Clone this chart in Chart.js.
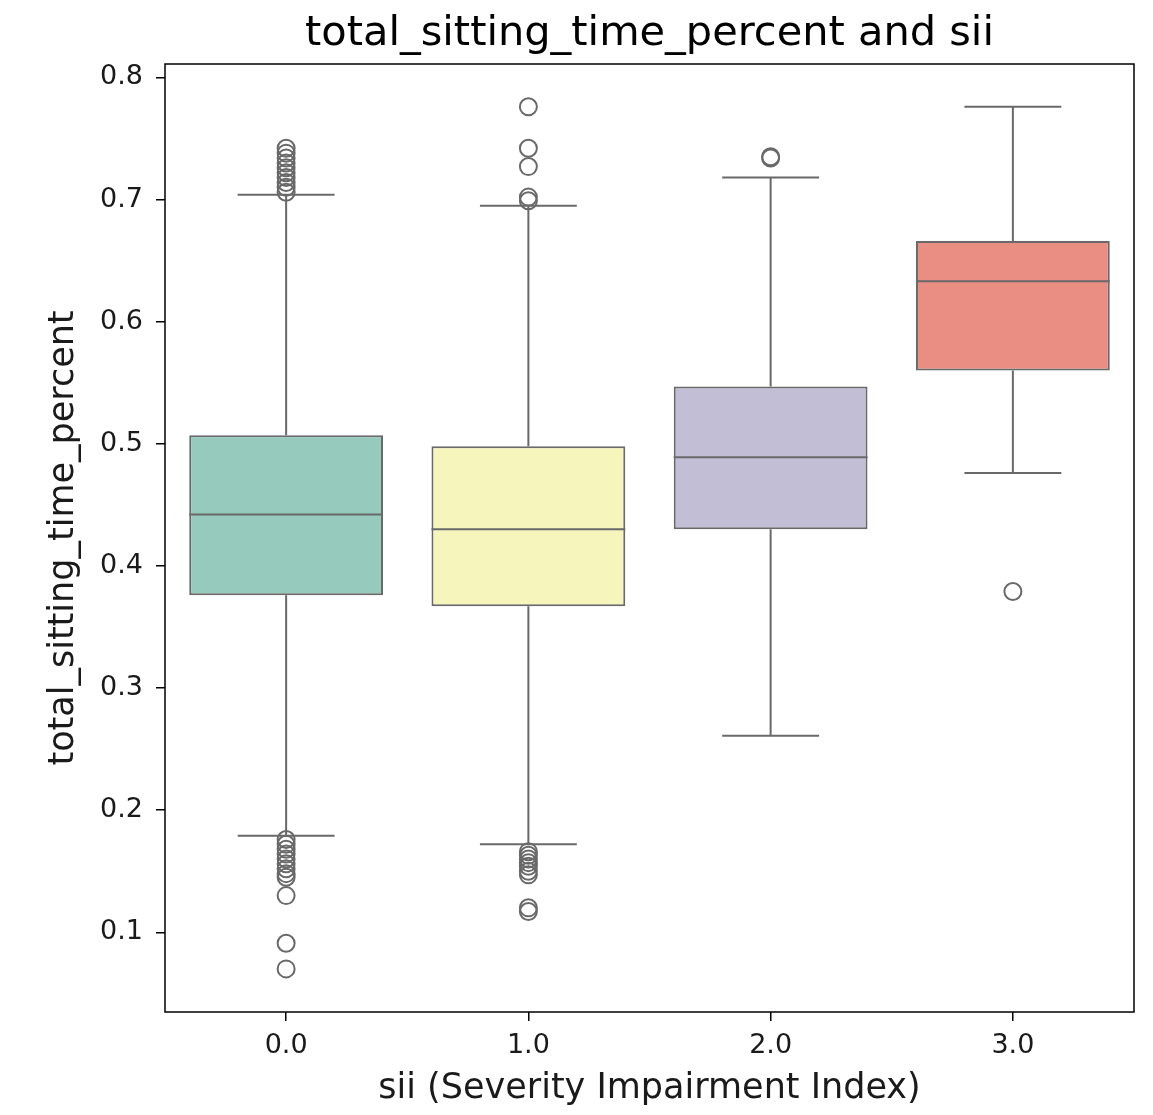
<!DOCTYPE html>
<html>
<head>
<meta charset="utf-8">
<title>total_sitting_time_percent and sii</title>
<script src="https://cdn.jsdelivr.net/npm/chart.js@4.4.0/dist/chart.umd.min.js"></script>
<style>
  html, body { margin: 0; padding: 0; background: #ffffff; }
  #wrap { width: 1153px; height: 1115px; }
</style>
</head>
<body>
<div id="wrap"><canvas id="chart" width="1153" height="1115"></canvas></div>
<script>
// sii groups on the x axis
const categories = ['0.0', '1.0', '2.0', '3.0'];

// box statistics of total_sitting_time_percent per sii group
const whiskerLow  = [0.179, 0.172, 0.261, 0.476];
const q1          = [0.376, 0.367, 0.430, 0.560];
const medians     = [0.442, 0.430, 0.489, 0.633];
const q3          = [0.507, 0.498, 0.547, 0.666];
const whiskerHigh = [0.704, 0.695, 0.718, 0.776];

// points beyond the whiskers, one list per group
const outliers0 = [0.742, 0.738, 0.734, 0.730, 0.726, 0.722, 0.718, 0.714, 0.710, 0.706,
                   0.176, 0.172, 0.168, 0.164, 0.160, 0.156, 0.152, 0.148, 0.145, 0.130, 0.091, 0.070];
const outliers1 = [0.776, 0.742, 0.727, 0.702, 0.699,
                   0.166, 0.163, 0.160, 0.157, 0.154, 0.150, 0.147, 0.120, 0.117];
const outliers2 = [0.735, 0.734];
const outliers3 = [0.379];

const yTicks = [0.1, 0.2, 0.3, 0.4, 0.5, 0.6, 0.7, 0.8];
const yMin = 0.0347;
const yMax = 0.811;

const boxColors = ['#96cabd', '#f5f5bc', '#c1bed6', '#ea8d83'];
const lineGray = '#696969';

// outliers keyed by their group label so the category scale places them
const outlierPoints = [outliers0, outliers1, outliers2, outliers3]
  .flatMap((list, i) => list.map(v => ({ x: categories[i], y: v })));

Chart.defaults.font.family = "'DejaVu Sans', sans-serif";
Chart.defaults.color = '#1a1a1a';

// whiskers, caps and medians drawn through the chart's own scales
const boxWhiskers = {
  id: 'boxWhiskers',
  beforeDatasetsDraw(chart) {
    const { ctx, scales: { y } } = chart;
    const bars = chart.getDatasetMeta(0).data;
    ctx.save();
    ctx.strokeStyle = lineGray;
    ctx.lineWidth = 2;
    bars.forEach((bar, i) => {
      const cap = bar.width / 4;
      const yLo = y.getPixelForValue(whiskerLow[i]);
      const yHi = y.getPixelForValue(whiskerHigh[i]);
      const yQ1 = y.getPixelForValue(q1[i]);
      const yQ3 = y.getPixelForValue(q3[i]);
      ctx.beginPath();
      ctx.moveTo(bar.x, yQ1); ctx.lineTo(bar.x, yLo);
      ctx.moveTo(bar.x, yQ3); ctx.lineTo(bar.x, yHi);
      ctx.moveTo(bar.x - cap, yLo); ctx.lineTo(bar.x + cap, yLo);
      ctx.moveTo(bar.x - cap, yHi); ctx.lineTo(bar.x + cap, yHi);
      ctx.stroke();
    });
    ctx.restore();
  },
  afterDatasetsDraw(chart) {
    const { ctx, chartArea, scales: { y } } = chart;
    const bars = chart.getDatasetMeta(0).data;
    ctx.save();
    ctx.strokeStyle = lineGray;
    ctx.lineWidth = 2;
    bars.forEach((bar, i) => {
      const ym = y.getPixelForValue(medians[i]);
      ctx.beginPath();
      ctx.moveTo(bar.x - bar.width / 2, ym);
      ctx.lineTo(bar.x + bar.width / 2, ym);
      ctx.stroke();
    });
    // axes frame
    ctx.strokeStyle = '#000000';
    ctx.lineWidth = 1.5;
    ctx.strokeRect(chartArea.left, chartArea.top,
                   chartArea.right - chartArea.left, chartArea.bottom - chartArea.top);
    ctx.restore();
  }
};

new Chart(document.getElementById('chart'), {
  type: 'bar',
  data: {
    labels: categories,
    datasets: [
      {
        label: 'IQR',
        data: categories.map((c, i) => [q1[i], q3[i]]),
        backgroundColor: boxColors,
        borderColor: lineGray,
        borderWidth: 2,
        borderSkipped: false,
        barPercentage: 0.8,
        categoryPercentage: 1.0,
        order: 2
      },
      {
        type: 'line',
        label: 'outliers',
        data: outlierPoints,
        showLine: false,
        pointRadius: 8.5,
        pointBorderWidth: 2,
        pointBorderColor: lineGray,
        pointBackgroundColor: 'rgba(0,0,0,0)',
        order: 1
      }
    ]
  },
  options: {
    responsive: false,
    animation: false,
    devicePixelRatio: 1,
    layout: { padding: { left: 0, right: 19, top: 0, bottom: 0 } },
    plugins: {
      legend: { display: false },
      tooltip: { enabled: false },
      title: {
        display: true,
        fullSize: false,
        text: 'total_sitting_time_percent and sii',
        color: '#000000',
        font: { size: 41.5, weight: 'normal' },
        padding: { top: 9, bottom: 5.2 }
      }
    },
    scales: {
      x: {
        type: 'category',
        offset: true,
        grid: { display: true, drawOnChartArea: false, drawTicks: true, tickLength: 9,
                offset: false, color: '#000000', lineWidth: 1.5 },
        border: { display: false },
        ticks: { color: '#1a1a1a', font: { size: 27 }, padding: 9, maxRotation: 0 },
        title: {
          display: true,
          text: 'sii (Severity Impairment Index)',
          color: '#1a1a1a',
          font: { size: 35 },
          padding: { top: 0, bottom: 5 }
        },
        afterFit(scale) { scale.height = 103; }
      },
      y: {
        type: 'linear',
        min: yMin,
        max: yMax,
        afterBuildTicks(scale) { scale.ticks = yTicks.map(v => ({ value: v })); },
        grid: { display: true, drawOnChartArea: false, drawTicks: true, tickLength: 9,
                color: '#000000', lineWidth: 1.5 },
        border: { display: false },
        ticks: { color: '#1a1a1a', font: { size: 27 }, padding: 13,
                 callback: v => v.toFixed(1) },
        title: {
          display: true,
          text: 'total_sitting_time_percent',
          color: '#1a1a1a',
          font: { size: 35 },
          padding: { top: 43, bottom: 0 }
        },
        afterFit(scale) { scale.width = 165; }
      }
    }
  },
  plugins: [boxWhiskers]
});
</script>
</body>
</html>
